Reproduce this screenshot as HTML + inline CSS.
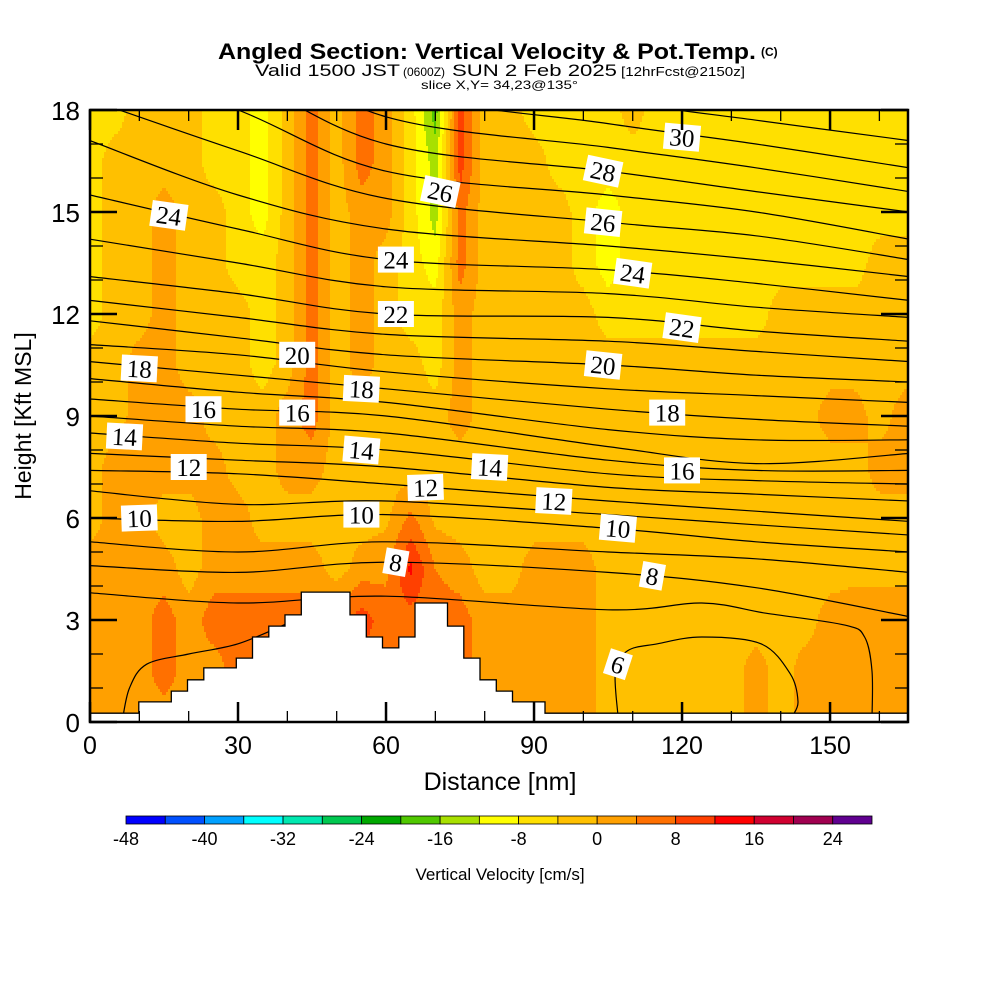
<!DOCTYPE html>
<html><head><meta charset="utf-8"><title>Angled Section</title>
<style>
html,body{margin:0;padding:0;background:#fff;}
svg{display:block;font-family:"Liberation Sans",sans-serif;}
</style></head>
<body>
<svg id="chart" width="1000" height="1000" viewBox="0 0 1000 1000" xmlns="http://www.w3.org/2000/svg">
  <defs><clipPath id="plotclip"><rect x="90" y="110" width="818" height="612"/></clipPath></defs>
  <g>
    <text x="218" y="59" font-size="22" font-weight="bold" textLength="538" lengthAdjust="spacingAndGlyphs">Angled Section: Vertical Velocity &amp; Pot.Temp.</text>
    <text x="761" y="56" font-size="12" font-weight="bold">(C)</text>
    <text x="255" y="76" font-size="17" textLength="145" lengthAdjust="spacingAndGlyphs">Valid 1500 JST</text>
    <text x="403" y="76" font-size="12">(0600Z)</text>
    <text x="452" y="76" font-size="17" textLength="165" lengthAdjust="spacingAndGlyphs">SUN 2 Feb 2025</text>
    <text x="621" y="76" font-size="13" textLength="124" lengthAdjust="spacingAndGlyphs">[12hrFcst@2150z]</text>
    <text x="421" y="89" font-size="12" textLength="157" lengthAdjust="spacingAndGlyphs">slice X,Y= 34,23@135°</text>
  </g>
  <g id="field" clip-path="url(#plotclip)"></g>
  <g id="contours" clip-path="url(#plotclip)"></g>
  <g id="terrain"></g>
  <g id="labels" clip-path="url(#plotclip)"></g>
  <g id="axes"></g>
  <text x="500" y="790" font-size="25" text-anchor="middle">Distance [nm]</text>
  <text transform="translate(31,416) rotate(-90)" font-size="23" text-anchor="middle">Height [Kft MSL]</text>
  <g id="colorbar"></g>
  <text x="500" y="880" font-size="17" text-anchor="middle">Vertical Velocity [cm/s]</text>
</svg>
<script>
// ---- data ----
const distNm = [0,5,10,15,20,25,30,35,40,45,50,55,60,65,70,75,80,85,90,95,100,105,110,115,120,125,130,135,140,145,150,155,160,165];
const heightsKft = [18,16.5,15,13.5,12,10.5,9,7.5,6,4.5,3,1.5,0];
const vv18  = [-6,-6,-2,-2,-2,-6,-6,-10,-2,6,-2,6,2,-6,-18,10,-2,-2,-6,-6,-6,-6,-2,-6,-6,-6,-6,-6,-6,-6,-6,-6,-6,-6];
const vv165 = [-6,-2,-2,-2,-2,-6,-6,-10,-2,6,-2,6,2,-6,-14,10,-2,-2,-2,-6,-6,-6,-6,-6,-6,-6,-6,-6,-6,-6,-6,-6,-6,-6];
const vv15  = [-6,-2,-2,2,-2,-2,-6,-10,-2,6,-2,2,2,-6,-14,6,-2,-2,-2,-2,-6,-10,-6,-6,-6,-6,-6,-6,-6,-6,-6,-6,-6,-6];
const vv135 = [-6,-2,-2,2,-2,-2,-6,-6,-2,6,-2,2,-2,-6,-10,6,-2,-2,-2,-2,-6,-10,-6,-6,-6,-6,-6,-6,-6,-6,-6,-6,-2,-2];
const vv12  = [-6,-2,-2,2,-2,-2,-2,-6,-2,6,-2,2,-2,-6,-6,2,-2,-2,-2,-2,-2,-6,-6,-6,-6,-6,-6,-6,-2,-2,-2,-2,-2,-2];
const vv105 = [-2,-2,2,2,-2,-2,-2,-6,-2,6,-2,2,-2,-2,-6,2,-2,-2,-2,-2,-2,-2,-2,-2,-2,-2,-2,-2,-2,-2,-2,-2,-2,-2];
const vv9   = [-2,-2,2,2,2,-2,-2,-2,2,6,-2,-2,-2,-2,-2,2,-2,-2,-2,-2,-2,-2,-2,-2,-2,-2,-2,-2,-2,-2,2,2,-2,2];
const vv75  = [-2,2,2,2,2,2,-2,-2,2,2,-2,-2,-2,-2,-2,-2,-2,-2,-2,-2,-2,-2,-2,-2,-2,-2,-2,-2,-2,-2,-2,-2,2,2];
const vv6   = [-2,2,2,-2,-2,2,2,-2,-2,-2,-2,-2,-1,5,-1,-2,-2,-2,-2,-2,-2,-2,-2,-2,-2,-2,-2,-2,-2,-2,-2,-2,-2,-2];
const vv45  = [2,2,2,2,-2,2,2,2,2,2,-2,2,3,13,4,2,-2,-2,2,2,2,-2,-2,-2,-2,-2,-2,-2,-2,-2,-2,-1,-1,-1];
const vv3   = [2,2,2,6,2,6,6,6,6,6,6,10,6,6,6,6,2,2,2,2,2,-2,-2,-2,-2,-2,-2,-2,-2,-2,2,2,2,2];
const vv15b = [2,2,2,6,2,2,6,6,6,6,6,6,6,6,6,6,2,2,2,2,2,-2,-2,-2,-2,-2,-2,2,-2,2,2,2,2,2];
const vv0   = [2,2,2,2,2,2,2,2,2,2,2,2,2,2,2,2,2,2,2,2,2,-2,-2,-2,-2,-2,-2,2,-2,2,2,2,2,2];
const velocityRows = [vv18,vv165,vv15,vv135,vv12,vv105,vv9,vv75,vv6,vv45,vv3,vv15b,vv0];

const colorLevels = [-48,-44,-40,-36,-32,-28,-24,-20,-16,-12,-8,-4,0,4,8,12,16,20,24,28];
const colorbarTicks = [-48,-40,-32,-24,-16,-8,0,8,16,24];
const binColors = ["#0000ff","#0050ff","#00a0ff","#00ffff","#00e8b0","#00c850","#00a800","#50c800","#a8e000","#ffff00","#ffe000","#ffc000","#ffa000","#ff7000","#ff4000","#ff0000","#d00030","#a00050","#600090"];

const thetaStations = [0,30,60,105,135,166];
const thetaLevels = [8,9,10,11,12,13,14,15,16,17,18,19,20,21,22,23,24,25,26,27,28,29,30,31,32];
const thetaHeights = [
 [4.6,4.4,4.7,4.4,3.95,3.1],
 [5.3,5.0,5.3,5.0,4.8,4.4],
 [6.0,5.9,6.1,5.7,5.3,5.0],
 [6.8,6.4,6.5,6.1,5.8,5.5],
 [7.4,7.3,7.0,6.5,6.2,5.9],
 [7.9,7.7,7.5,6.9,6.7,6.5],
 [8.5,8.2,8.0,7.3,7.1,7.0],
 [9.0,8.7,8.5,7.7,7.4,7.4],
 [9.5,9.2,9.0,8.1,7.6,7.9],
 [10.1,9.7,9.4,8.6,8.3,8.3],
 [10.6,10.2,9.8,9.2,8.9,8.7],
 [11.1,10.8,10.3,9.8,9.6,9.4],
 [11.8,11.3,10.8,10.5,10.2,10.0],
 [12.4,11.9,11.4,11.2,10.9,10.6],
 [13.1,12.6,12.0,11.9,11.5,11.2],
 [14.2,13.5,12.8,12.6,12.2,11.9],
 [15.5,14.5,13.6,13.3,12.9,12.4],
 [17.1,15.5,14.5,14.0,13.6,13.1],
 [18.3,16.8,15.4,14.7,14.3,13.6],
 [19.5,18.0,16.2,15.5,15.0,14.2],
 [20.5,19.0,17.0,16.2,15.6,15.0],
 [21.5,20.0,17.8,16.9,16.3,15.6],
 [22.5,21.0,18.6,17.6,17.0,16.3],
 [23.5,22.0,19.5,18.3,17.7,17.1],
 [24.5,23.0,20.5,19.2,18.5,18.0]
];
const theta7X = [0,30,60,105,124,137,153,157,158.5,158.5];
const theta7H = [3.8,3.5,3.7,3.3,3.5,3.2,2.85,2.5,1.5,0.1];
const theta6LeftX = [6.5,8,11.5,20,30,40];
const theta6LeftH = [0,1.0,1.7,2.0,2.3,2.9];
const theta6RightX = [107,106.5,109,115,124,136,142,143.5,142.5];
const theta6RightH = [0.2,1.5,2.1,2.3,2.5,2.3,1.4,0.6,0.2];

const labelText = ["24","24","24","22","22","20","20","18","18","18","16","16","16","14","14","14","12","12","12","10","10","10","8","8","6","26","26","28","30"];
const labelX = [16,62,110,62,120,42,104,10,55,117,23,42,120,7,55,81,20,68,94,10,55,107,62,114,107,71,104,104,120];
const labelH = [14.9,13.6,13.2,12.0,11.6,10.8,10.5,10.4,9.8,9.1,9.2,9.1,7.4,8.4,8.0,7.5,7.5,6.9,6.5,6.0,6.1,5.7,4.7,4.3,1.7,15.6,14.7,16.2,17.2];
const labelAngle = [8,0,8,0,8,0,6,3,3,0,0,0,0,3,5,3,0,-2,3,-2,0,5,10,10,18,12,6,12,5];

const terrainColWidthNm = 3.294;
const terrainKft = [0.26,0.26,0.26,0.59,0.59,0.91,1.24,1.59,1.59,1.88,2.5,2.82,3.15,3.82,3.82,3.82,3.15,2.5,2.18,2.5,3.5,3.5,2.82,1.88,1.24,0.91,0.59,0.59,0.26,0.26,0.26,0.26,0.26,0.26,0.26,0.26,0.26,0.26,0.26,0.26,0.26,0.26,0.26,0.26,0.26,0.26,0.26,0.26,0.26,0.26,0.26];

const xTicksMajor = [0,30,60,90,120,150];
const yTicksMajor = [0,3,6,9,12,15,18];

// ---- scales ----
const X0=90, X1=908, Y0=722, Y1=110, XMAX=165.8, YMAX=18;
function xs(d){return X0 + d*(X1-X0)/XMAX;}
function ys(h){return Y0 - h*(Y0-Y1)/YMAX;}
function xinv(px){return (px-X0)*XMAX/(X1-X0);}
function yinv(py){return (Y0-py)*YMAX/(Y0-Y1);}
const NS="http://www.w3.org/2000/svg";
function mk(tag,attrs,parent){const e=document.createElementNS(NS,tag);for(const k in attrs)e.setAttribute(k,attrs[k]);if(parent)parent.appendChild(e);return e;}

// ---- velocity field ----
function sampleV(d,h){
  let i=Math.min(distNm.length-2,Math.max(0,Math.floor(d/5)));
  let tx=Math.min(1,Math.max(0,(d-distNm[i])/5));
  let r=0; while(r<heightsKft.length-2 && h<heightsKft[r+1]) r++;
  let ty=Math.min(1,Math.max(0,(heightsKft[r]-h)/(heightsKft[r]-heightsKft[r+1])));
  const a=velocityRows[r][i],b=velocityRows[r][i+1],c=velocityRows[r+1][i],e=velocityRows[r+1][i+1];
  return (a*(1-tx)+b*tx)*(1-ty)+(c*(1-tx)+e*tx)*ty;
}
function binOf(v){let k=Math.floor((v-colorLevels[0])/4);return Math.max(0,Math.min(binColors.length-1,k));}
const field=document.getElementById('field');
const DY=3, DX=2;
for(let py=Y1; py<Y0; py+=DY){
  const h=yinv(py+DY/2);
  let runStart=X0, runBin=binOf(sampleV(xinv(X0+1),h));
  for(let px=X0+DX; px<=X1; px+=DX){
    const b = px<X1 ? binOf(sampleV(xinv(px+1),h)) : -1;
    if(b!==runBin){
      const r=mk('rect',{x:runStart,y:py,width:px-runStart+0.6,height:DY+0.6,fill:binColors[runBin]},field);
      
      
      runStart=px; runBin=b;
    }
  }
}

// ---- contours ----
function smoothPath(pts){
  let d='M'+pts[0][0].toFixed(1)+','+pts[0][1].toFixed(1);
  for(let i=0;i<pts.length-1;i++){
    const p0=pts[Math.max(0,i-1)],p1=pts[i],p2=pts[i+1],p3=pts[Math.min(pts.length-1,i+2)];
    const c1=[p1[0]+(p2[0]-p0[0])/6,p1[1]+(p2[1]-p0[1])/6];
    const c2=[p2[0]-(p3[0]-p1[0])/6,p2[1]-(p3[1]-p1[1])/6];
    d+=' C'+c1[0].toFixed(1)+','+c1[1].toFixed(1)+' '+c2[0].toFixed(1)+','+c2[1].toFixed(1)+' '+p2[0].toFixed(1)+','+p2[1].toFixed(1);
  }
  return d;
}
const cg=document.getElementById('contours');
thetaLevels.forEach((lev,k)=>{
  const pts=thetaStations.map((s,j)=>[xs(s),ys(thetaHeights[k][j])]);
  const p=mk('path',{d:smoothPath(pts),fill:'none',stroke:'#000','stroke-width':1.2},cg);
  
  
});
[[theta7X,theta7H,7],[theta6LeftX,theta6LeftH,6],[theta6RightX,theta6RightH,6]].forEach(([xa,ha,lev])=>{
  const pts=xa.map((x,j)=>[xs(x),ys(ha[j])]);
  const p=mk('path',{d:smoothPath(pts),fill:'none',stroke:'#000','stroke-width':1.2},cg);
  
  
});

// ---- terrain ----
const tg=document.getElementById('terrain');
let td='M'+X0+','+Y0;
terrainKft.forEach((h,i)=>{
  const xa=Math.min(X1,xs(i*terrainColWidthNm)), xb=Math.min(X1,xs((i+1)*terrainColWidthNm));
  td+=' L'+xa.toFixed(1)+','+ys(h).toFixed(1)+' L'+xb.toFixed(1)+','+ys(h).toFixed(1);
});
td+=' L'+X1+','+Y0+' Z';
const tp=mk('path',{d:td,fill:'#fff',stroke:'#000','stroke-width':1.3},tg);



// ---- contour labels ----
const lg=document.getElementById('labels');
labelText.forEach((t,i)=>{
  const g=mk('g',{transform:'translate('+xs(labelX[i]).toFixed(1)+','+ys(labelH[i]).toFixed(1)+') rotate('+labelAngle[i]+')'},lg);
  
  
  const w=t.length*13+10;
  mk('rect',{x:-w/2,y:-13,width:w,height:26,fill:'#fff'},g);
  const tx=mk('text',{x:0,y:9,'font-size':25,'text-anchor':'middle','font-family':'"Liberation Serif",serif'},g);
  tx.textContent=t;
});

// ---- axes ----
const ag=document.getElementById('axes');
const fr=mk('rect',{x:X0,y:Y1,width:X1-X0,height:Y0-Y1,fill:'none',stroke:'#000','stroke-width':2.5},ag);


for(let d=0; d<=165; d+=10){
  const maj=(d%30===0), L=maj?20:11, sw=maj?2.5:1.3;
  mk('line',{x1:xs(d),y1:Y0,x2:xs(d),y2:Y0-L,stroke:'#000','stroke-width':sw},ag);
  mk('line',{x1:xs(d),y1:Y1,x2:xs(d),y2:Y1+L,stroke:'#000','stroke-width':sw},ag);
}
xTicksMajor.forEach(d=>{
  const t=mk('text',{x:xs(d),y:754,'font-size':25,'text-anchor':'middle'},ag);
  
  
  t.textContent=d;
});
for(let h=0; h<=18; h+=1){
  const maj=(h%3===0), L=maj?27:13, sw=maj?2.5:1.3;
  mk('line',{x1:X0,y1:ys(h),x2:X0+L,y2:ys(h),stroke:'#000','stroke-width':sw},ag);
  mk('line',{x1:X1,y1:ys(h),x2:X1-L,y2:ys(h),stroke:'#000','stroke-width':sw},ag);
}
yTicksMajor.forEach(h=>{
  const t=mk('text',{x:80,y:ys(h)+10,'font-size':26,'text-anchor':'end'},ag);
  
  
  t.textContent=h;
});

// ---- colorbar ----
const cb=document.getElementById('colorbar');
const CB0=126, CB1=872, bw=(CB1-CB0)/binColors.length;
function cbx(v){return CB0+(v-colorLevels[0])/4*bw;}
binColors.forEach((c,i)=>{
  const r=mk('rect',{x:CB0+i*bw,y:816,width:bw,height:8,fill:c,stroke:'#000','stroke-width':0.8},cb);
  
  
});
colorbarTicks.forEach(v=>{
  const t=mk('text',{x:cbx(v),y:845,'font-size':18,'text-anchor':'middle'},cb);
  
  
  t.textContent=v;
});
</script>
</body></html>
